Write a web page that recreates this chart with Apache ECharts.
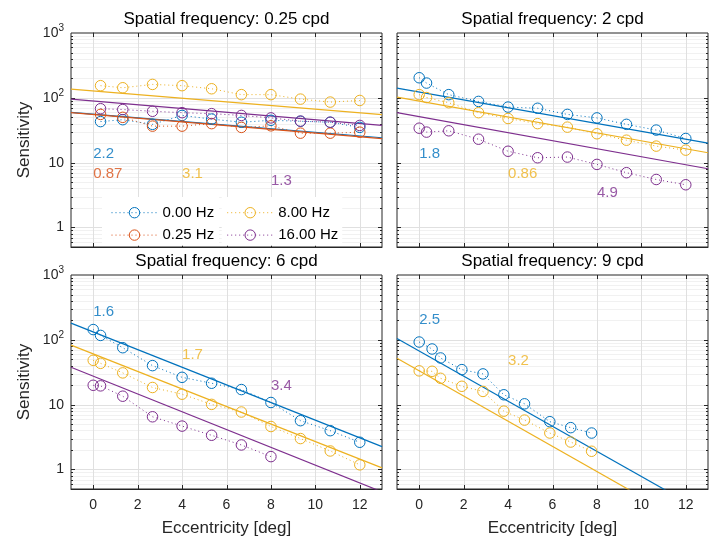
<!DOCTYPE html>
<html>
<head>
<meta charset="utf-8">
<script src="https://cdn.jsdelivr.net/npm/echarts@6/dist/echarts.min.js"></script>
<style>html,body{margin:0;padding:0;background:#fff}#c{width:717px;height:540px}</style>
</head>
<body>
<div id="c"></div>
<script>
// ---------- data ----------
const titles = ['Spatial frequency: 0.25 cpd', 'Spatial frequency: 2 cpd', 'Spatial frequency: 6 cpd', 'Spatial frequency: 9 cpd'];
const legendNames = ['0.00 Hz', '0.25 Hz', '8.00 Hz', '16.00 Hz'];
const xTickVals = [0, 2, 4, 6, 8, 10, 12];
const yMajorVals = [1, 10, 100];
const yMinorVals = [0.6, 0.7, 0.8, 0.9, 2, 3, 4, 5, 6, 7, 8, 9, 20, 30, 40, 50, 60, 70, 80, 90, 200, 300, 400, 500, 600, 700, 800, 900];
const fitX = [-1, 13];

// panel 1: 0.25 cpd
const ecc1 = [0.33, 1.33, 2.67, 4, 5.33, 6.67, 8, 9.33, 10.67, 12];
const p1_00 = [43, 46, 39, 53.5, 47, 42, 45, 43.5, 42, 35];
const p1_025 = [55.5, 50, 36.6, 36.6, 40, 35, 37, 28.5, 28.5, 29.5];
const p1_8 = [154, 143, 161, 154, 138, 112, 112, 95.5, 86, 91];
const p1_16 = [68, 66, 62, 59, 57, 53.5, 49, 43.7, 42, 37.5];
const fit1_00 = [59.5, 24.2];
const fit1_025 = [59, 23.4];
const fit1_8 = [136, 55];
const fit1_16 = [95.5, 37.5];
const notes1 = [['2.2', 0, 13.5, 0], ['0.87', 0, 6.8, 1], ['3.1', 4, 6.8, 2], ['1.3', 8, 5.3, 3]];

// panel 2: 2 cpd
const ecc2 = [0, 0.33, 1.33, 2.67, 4, 5.33, 6.67, 8, 9.33, 10.67, 12];
const p2_00 = [204, 169, 112, 88, 72, 69, 55.5, 49, 39, 31.8, 23.6];
const p2_8 = [112, 101, 84, 59, 48, 40, 35.3, 27.9, 22.2, 18, 15.6];
const p2_16 = [34, 29.6, 31, 23, 15, 11.9, 12.2, 9.4, 7, 5.5, 4.56];
const fit2_00 = [141, 20];
const fit2_8 = [102.5, 14.2];
const fit2_16 = [59, 8.05];
const notes2 = [['1.8', 0, 13.7, 0], ['0.86', 4, 6.7, 2], ['4.9', 8, 3.4, 3]];

// panel 3: 6 cpd
const ecc3 = [0, 0.33, 1.33, 2.67, 4, 5.33, 6.67, 8, 9.33, 10.67, 12];
const p3_00 = [144, 117, 75.6, 40, 26.4, 21.4, 17.1, 10.8, 5.66, 3.97, 2.63];
const p3_8 = [48.3, 43.4, 30.9, 18.4, 14.5, 10.1, 7.7, 4.6, 3.0, 1.93, 1.18];
const p3_16 = [19.9, 19.5, 13.5, 6.5, 4.67, 3.37, 2.39, 1.58];
const fit3_00 = [181, 2.25];
const fit3_8 = [83, 1.06];
const fit3_16 = [37.7, 0.452];
const notes3 = [['1.6', 0, 267, 0], ['1.7', 4, 58.4, 2], ['3.4', 8, 19.2, 3]];

// panel 4: 9 cpd
const ecc4 = [0, 0.58, 0.96, 1.92, 2.87, 3.81, 4.74, 5.88, 6.82, 7.76];
const p4_00 = [92.5, 72.2, 52.5, 34.7, 29.8, 14.2, 10.3, 5.46, 4.42, 3.65];
const p4_8 = [33.2, 32.7, 25.5, 19.2, 16, 7.94, 5.78, 3.65, 2.65, 1.91];
const fit4_00 = [105, 0.205];
const fit4_8 = [51.8, 0.0995];
const notes4 = [['2.5', 0, 201, 0], ['3.2', 4, 46.6, 2]];

// ---------- styling ----------
const COLORS = ['#0072BD', '#D95319', '#EDB120', '#7E2F8E'];
const FONT = 'Liberation Sans, Arial, Helvetica, sans-serif';
const AX = '#262626';
const DOT = [1, 3];

const panels = [
  { left: 71, top: 33, xl: false, yl: true,
    sets: [[0, ecc1, p1_00, fit1_00], [1, ecc1, p1_025, fit1_025], [2, ecc1, p1_8, fit1_8], [3, ecc1, p1_16, fit1_16]], notes: notes1 },
  { left: 397, top: 33, xl: false, yl: false,
    sets: [[0, ecc2, p2_00, fit2_00], [2, ecc2, p2_8, fit2_8], [3, ecc2, p2_16, fit2_16]], notes: notes2 },
  { left: 71, top: 275, xl: true, yl: true,
    sets: [[0, ecc3, p3_00, fit3_00], [2, ecc3, p3_8, fit3_8], [3, ecc3, p3_16, fit3_16]], notes: notes3 },
  { left: 397, top: 275, xl: true, yl: false,
    sets: [[0, ecc4, p4_00, fit4_00], [2, ecc4, p4_8, fit4_8]], notes: notes4 }
];
const GW = 311, GH = 214;

const grid = [], xAxis = [], yAxis = [], series = [], graphic = [];

function yFmt(v) {
  const e = Math.log10(v);
  const r = Math.round(e);
  if (Math.abs(e - r) > 1e-6) return '';
  if (r === 0) return '1';
  if (r === 1) return '10';
  return '{b|10}{s|' + r + '}';
}
function xFmt(v) {
  const r = Math.round(v);
  if (Math.abs(v - r) > 1e-6) return '';
  return xTickVals.indexOf(r) >= 0 ? String(r) : '';
}

panels.forEach((p, i) => {
  grid.push({ left: p.left, top: p.top, width: GW, height: GH, show: true, borderColor: AX, borderWidth: 1, backgroundColor: 'rgba(0,0,0,0)' });
  xAxis.push({
    type: 'value', gridIndex: i, min: -1, max: 13, interval: 1,
    axisLine: { show: true, onZero: false, lineStyle: { color: AX, width: 1 } },
    axisTick: { show: false }, splitLine: { show: false },
    axisLabel: { show: p.xl, formatter: xFmt, fontSize: 14, color: AX, margin: 9, fontFamily: FONT },
    name: p.xl ? 'Eccentricity [deg]' : '', nameLocation: 'middle', nameGap: 31,
    nameTextStyle: { fontSize: 17, color: AX, fontFamily: FONT }
  });
  yAxis.push({
    type: 'log', logBase: 10, gridIndex: i, min: 0.5, max: 1000,
    axisLine: { show: true, lineStyle: { color: AX, width: 1 } },
    axisTick: { show: false }, splitLine: { show: false },
    axisLabel: { show: p.yl, formatter: yFmt, fontSize: 14, color: AX, margin: 7, fontFamily: FONT,
      rich: { b: { fontSize: 14, color: AX, fontFamily: FONT, lineHeight: 20 },
              s: { fontSize: 10, color: AX, fontFamily: FONT, verticalAlign: 'top', lineHeight: 12 } } },
    name: p.yl ? 'Sensitivity' : '', nameLocation: 'middle', nameGap: 38,
    nameTextStyle: { fontSize: 17, color: AX, fontFamily: FONT }
  });

  // horizontal grid lines (major + minor) with inward ticks on both sides
  const hData = yMajorVals.map(v => [0, v, 1]).concat(yMinorVals.map(v => [0, v, 0]));
  series.push({
    type: 'custom', xAxisIndex: i, yAxisIndex: i, silent: true, z: 1, clip: false,
    encode: { x: 0, y: 1 }, data: hData,
    renderItem: (params, api) => {
      const cs = params.coordSys;
      const y = Math.round(api.coord([0, api.value(1)])[1]) + 0.5;
      const major = api.value(2) === 1;
      const tl = major ? 4 : 2;
      return { type: 'group', children: [
        { type: 'line', shape: { x1: cs.x, y1: y, x2: cs.x + cs.width, y2: y }, style: { stroke: major ? '#e0e0e0' : '#f1f1f1', lineWidth: 1 } },
        { type: 'line', shape: { x1: cs.x, y1: y, x2: cs.x + tl, y2: y }, style: { stroke: AX, lineWidth: 1 } },
        { type: 'line', shape: { x1: cs.x + cs.width - tl, y1: y, x2: cs.x + cs.width, y2: y }, style: { stroke: AX, lineWidth: 1 } }
      ] };
    }
  });
  // vertical grid lines with inward ticks top and bottom
  series.push({
    type: 'custom', xAxisIndex: i, yAxisIndex: i, silent: true, z: 1, clip: false,
    encode: { x: 0, y: 1 }, data: xTickVals.map(v => [v, 1]),
    renderItem: (params, api) => {
      const cs = params.coordSys;
      const x = Math.round(api.coord([api.value(0), 1])[0]) + 0.5;
      const b = cs.y + cs.height;
      return { type: 'group', children: [
        { type: 'line', shape: { x1: x, y1: cs.y, x2: x, y2: b }, style: { stroke: '#e0e0e0', lineWidth: 1 } },
        { type: 'line', shape: { x1: x, y1: b, x2: x, y2: b - 4 }, style: { stroke: AX, lineWidth: 1 } },
        { type: 'line', shape: { x1: x, y1: cs.y, x2: x, y2: cs.y + 4 }, style: { stroke: AX, lineWidth: 1 } }
      ] };
    }
  });

  p.sets.forEach(([ci, ecc, vals, fit]) => {
    const c = COLORS[ci];
    series.push({
      type: 'line', name: legendNames[ci], xAxisIndex: i, yAxisIndex: i, z: 3,
      data: ecc.slice(0, vals.length).map((x, k) => [x, vals[k]]),
      symbol: 'circle', symbolSize: 10.5, showSymbol: true,
      itemStyle: { color: 'none', borderColor: c, borderWidth: 1 },
      lineStyle: { color: c, width: 1, type: DOT },
      emphasis: { disabled: true }
    });
    series.push({
      type: 'line', name: 'fit ' + legendNames[ci], xAxisIndex: i, yAxisIndex: i, z: 2,
      data: fitX.map((x, k) => [x, fit[k]]), symbol: 'none',
      lineStyle: { color: c, width: 1.2 }, emphasis: { disabled: true }, silent: true
    });
  });

  series.push({
    type: 'scatter', xAxisIndex: i, yAxisIndex: i, z: 4, symbolSize: 0, silent: true,
    itemStyle: { color: 'rgba(0,0,0,0)' },
    data: p.notes.map(n => ({ value: [n[1], n[2]], name: n[0], label: { color: COLORS[n[3]] } })),
    label: { show: true, position: 'right', distance: 0, formatter: '{b}', fontSize: 15, fontFamily: FONT }
  });

  graphic.push({ type: 'text', x: p.left + GW / 2, y: p.top - 13.5,
    style: { text: titles[i], align: 'center', verticalAlign: 'middle', fontSize: 17, fill: '#000', fontFamily: FONT } });
});

const legendCommon = {
  orient: 'vertical', top: 197, itemWidth: 46, itemHeight: 13, itemGap: 7,
  backgroundColor: '#fff', borderWidth: 0, selectedMode: false,
  itemStyle: { borderWidth: 1, color: 'none' },
  lineStyle: { width: 1, type: DOT },
  textStyle: { fontSize: 15, color: '#000', fontFamily: FONT, lineHeight: 13 }
};

const option = {
  animation: false,
  backgroundColor: '#fff',
  grid, xAxis, yAxis, series, graphic,
  legend: [
    Object.assign({}, legendCommon, { left: 102, padding: [8, 5, 3, 9], data: ['0.00 Hz', '0.25 Hz'] }),
    Object.assign({}, legendCommon, { left: 221.7, padding: [8, 4, 3, 5], data: ['8.00 Hz', '16.00 Hz'] })
  ]
};

const chart = echarts.init(document.getElementById('c'), null, { renderer: 'canvas' });
chart.setOption(option);
</script>
</body>
</html>
